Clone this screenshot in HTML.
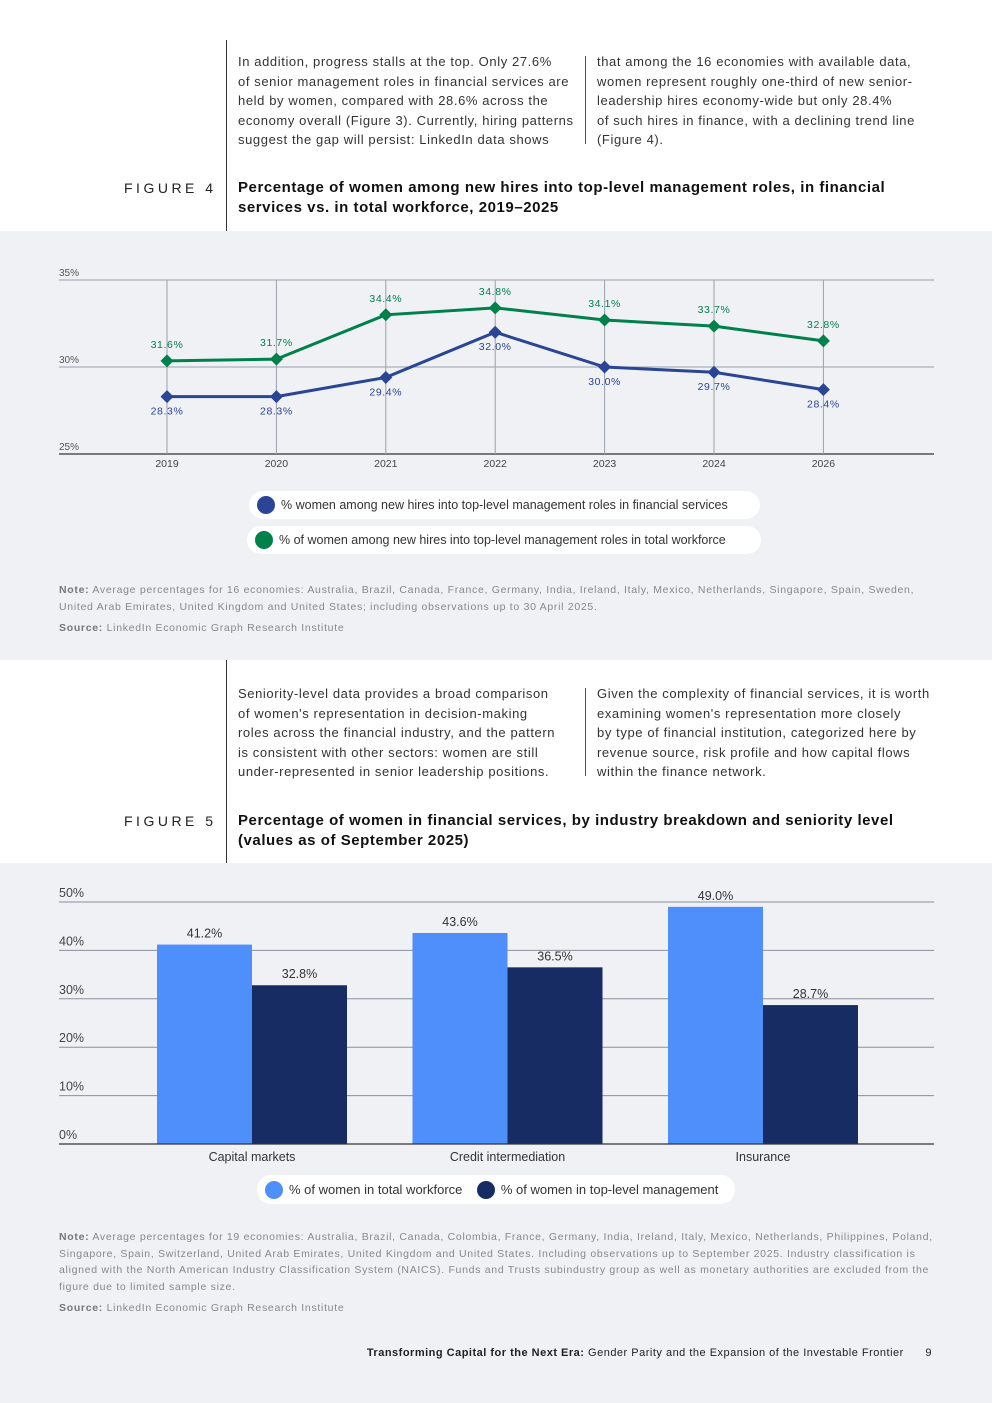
<!DOCTYPE html>
<html><head><meta charset="utf-8">
<style>
*{margin:0;padding:0;box-sizing:border-box}
body{width:992px;height:1403px;position:relative;background:#fff;font-family:"Liberation Sans",sans-serif;color:#222;overflow:hidden}
.abs{position:absolute}
.band{position:absolute;left:0;width:992px;background:#eff1f5}
.vline{position:absolute;left:226px;width:1px;background:#333}
.para{position:absolute;font-size:13px;line-height:19.5px;color:#333;white-space:nowrap;letter-spacing:0.6px}
.sep{position:absolute;width:1px;background:#555}
.figlab{position:absolute;left:124px;font-size:14px;letter-spacing:3.5px;color:#222}
.figtitle{position:absolute;left:238px;font-size:15px;font-weight:bold;line-height:20px;color:#111;white-space:nowrap;letter-spacing:0.55px}
.note{position:absolute;left:59px;font-size:10.5px;line-height:16.5px;color:#888;white-space:nowrap;letter-spacing:0.7px}
.note b{font-weight:bold;color:#777}
.legend{position:absolute;background:#fff;border-radius:14px;height:28px;font-size:12.5px;color:#333;display:flex;align-items:center;padding:0 12px 0 8px;white-space:nowrap}
.dot{width:18px;height:18px;border-radius:50%;margin-right:6px;display:inline-block}
</style></head><body>
<div class="vline" style="top:40px;height:191px"></div>
<div class="para" style="left:238px;top:52px">In addition, progress stalls at the top. Only 27.6%<br>of senior management roles in financial services are<br>held by women, compared with 28.6% across the<br>economy overall (Figure 3). Currently, hiring patterns<br>suggest the gap will persist: LinkedIn data shows</div>
<div class="sep" style="left:585px;top:56px;height:88px"></div>
<div class="para" style="left:597px;top:52px">that among the 16 economies with available data,<br>women represent roughly one-third of new senior-<br>leadership hires economy-wide but only 28.4%<br>of such hires in finance, with a declining trend line<br>(Figure 4).</div>
<div class="figlab" style="top:180px">FIGURE 4</div>
<div class="figtitle" style="top:178px">Percentage of women among new hires into top-level management roles, in financial<br>services vs. in total workforce, 2019–2025</div>

<div class="band" style="top:231px;height:429px"></div>
<svg class="abs" style="left:0;top:0" width="992" height="660" id="c1"></svg>
<div class="legend" style="left:249px;top:491px;width:511px"><span class="dot" style="background:#2a4593"></span>% women among new hires into top-level management roles in financial services</div>
<div class="legend" style="left:247px;top:526px;width:514px"><span class="dot" style="background:#00804a"></span>% of women among new hires into top-level management roles in total workforce</div>
<div class="note" style="top:582px"><b>Note:</b> Average percentages for 16 economies: Australia, Brazil, Canada, France, Germany, India, Ireland, Italy, Mexico, Netherlands, Singapore, Spain, Sweden,<br>United Arab Emirates, United Kingdom and United States; including observations up to 30 April 2025.</div>
<div class="note" style="top:620px"><b>Source:</b> LinkedIn Economic Graph Research Institute</div>

<div class="vline" style="top:660px;height:203px"></div>
<div class="para" style="left:238px;top:684px">Seniority-level data provides a broad comparison<br>of women's representation in decision-making<br>roles across the financial industry, and the pattern<br>is consistent with other sectors: women are still<br>under-represented in senior leadership positions.</div>
<div class="sep" style="left:585px;top:688px;height:88px"></div>
<div class="para" style="left:597px;top:684px">Given the complexity of financial services, it is worth<br>examining women's representation more closely<br>by type of financial institution, categorized here by<br>revenue source, risk profile and how capital flows<br>within the finance network.</div>
<div class="figlab" style="top:813px">FIGURE 5</div>
<div class="figtitle" style="top:811px">Percentage of women in financial services, by industry breakdown and seniority level<br>(values as of September 2025)</div>

<div class="band" style="top:863px;height:540px"></div>
<svg class="abs" style="left:0;top:0" width="992" height="1180" id="c2"></svg>
<div class="legend" style="left:257px;top:1175px;height:29px;font-size:13px;width:478px"><span class="dot" style="background:#4f8ffc"></span>% of women in total workforce&nbsp;&nbsp;&nbsp;&nbsp;<span class="dot" style="background:#162c63"></span>% of women in top-level management</div>
<div class="note" style="top:1229px"><b>Note:</b> Average percentages for 19 economies: Australia, Brazil, Canada, Colombia, France, Germany, India, Ireland, Italy, Mexico, Netherlands, Philippines, Poland,<br>Singapore, Spain, Switzerland, United Arab Emirates, United Kingdom and United States. Including observations up to September 2025. Industry classification is<br>aligned with the North American Industry Classification System (NAICS). Funds and Trusts subindustry group as well as monetary authorities are excluded from the<br>figure due to limited sample size.</div>
<div class="note" style="top:1300px"><b>Source:</b> LinkedIn Economic Graph Research Institute</div>
<div class="abs" style="right:60px;top:1347px;font-size:11px;color:#222;white-space:nowrap;letter-spacing:0.5px"><b>Transforming Capital for the Next Era:</b> Gender Parity and the Expansion of the Investable Frontier <span style="margin-left:18px">9</span></div>

<script>
const years=["2019","2020","2021","2022","2023","2024","2026"];
const finLabels=["28.3%","28.3%","29.4%","32.0%","30.0%","29.7%","28.4%"];
const finValues=[28.3,28.3,29.4,32.0,30.0,29.7,28.7];
const totLabels=["31.6%","31.7%","34.4%","34.8%","34.1%","33.7%","32.8%"];
const totValues=[30.35,30.45,33.0,33.4,32.7,32.35,31.5];
const yTicks1=[25,30,35];
const cats=["Capital markets","Credit intermediation","Insurance"];
const workforce=[41.2,43.6,49.0];
const mgmt=[32.8,36.5,28.7];
const yTicks2=[0,10,20,30,40,50];
const NS="http://www.w3.org/2000/svg";
function mk(svg,t,a,txt){const e=document.createElementNS(NS,t);for(const k in a)e.setAttribute(k,a[k]);if(txt!==undefined)e.textContent=txt;svg.appendChild(e);return e;}
const s1=document.getElementById('c1');
const x1=i=>167+i*109.4, y1=v=>454-(v-25)*17.4;
yTicks1.forEach(t=>{
  const l=mk(s1,'line',{x1:59,x2:934,y1:y1(t),y2:y1(t),stroke:t==25?'#333':'#9aa0ad','stroke-width':t==25?1.2:1});
  
  
  const tx=mk(s1,'text',{x:59,y:y1(t)-4,'font-size':10,fill:'#555','font-family':'Liberation Sans'},t+'%');
  
  
});
years.forEach((yr,i)=>{
  mk(s1,'line',{x1:x1(i),x2:x1(i),y1:y1(35),y2:y1(25),stroke:'#9aa0ad','stroke-width':1});
  const tx=mk(s1,'text',{x:x1(i),y:467,'font-size':10.5,fill:'#444','text-anchor':'middle','font-family':'Liberation Sans'},yr);
  
  
});
function series(vals,labels,color,above,name){
  const p=mk(s1,'polyline',{points:vals.map((v,i)=>x1(i)+','+y1(v)).join(' '),fill:'none',stroke:color,'stroke-width':3});
  
  
  vals.forEach((v,i)=>{
    const x=x1(i),y=y1(v);
    const d=mk(s1,'polygon',{points:`${x},${y-6.5} ${x+6.5},${y} ${x},${y+6.5} ${x-6.5},${y}`,fill:color});
    
    
    const t=mk(s1,'text',{x:x,y:above?y-13:y+18,'font-size':10.5,fill:color,'text-anchor':'middle','font-family':'Liberation Sans','letter-spacing':0.6},labels[i]);
    
    
  });
}
series(totValues,totLabels,'#00804a',true,'total-workforce');
series(finValues,finLabels,'#2a4593',false,'financial-services');
const s2=document.getElementById('c2');
const y2=v=>1144-v*4.84, gx=i=>252+i*255.5, bw=95;
yTicks2.forEach(t=>{
  const l=mk(s2,'line',{x1:59,x2:934,y1:y2(t),y2:y2(t),stroke:t==0?'#333':'#8a909c','stroke-width':1});
  
  
  const tx=mk(s2,'text',{x:59,y:y2(t)-5,'font-size':12.5,fill:'#444','font-family':'Liberation Sans'},t+'%');
  
  
});
cats.forEach((c,i)=>{
  [[workforce,'#4f8ffc',-bw,'workforce'],[mgmt,'#162c63',0,'management']].forEach(([arr,col,off,nm])=>{
    const v=arr[i];
    const r=mk(s2,'rect',{x:gx(i)+off,y:y2(v),width:bw,height:y2(0)-y2(v),fill:col});
    
    
    const t=mk(s2,'text',{x:gx(i)+off+bw/2,y:y2(v)-7,'font-size':12.5,fill:'#333','text-anchor':'middle','font-family':'Liberation Sans'},v.toFixed(1)+'%');
    
    
  });
  const t=mk(s2,'text',{x:gx(i),y:1161,'font-size':12.5,fill:'#333','text-anchor':'middle','font-family':'Liberation Sans'},c);
  
  
});
mk(s2,'line',{x1:59,x2:934,y1:y2(0),y2:y2(0),stroke:'#333','stroke-width':1.2});
</script>
</body></html>
